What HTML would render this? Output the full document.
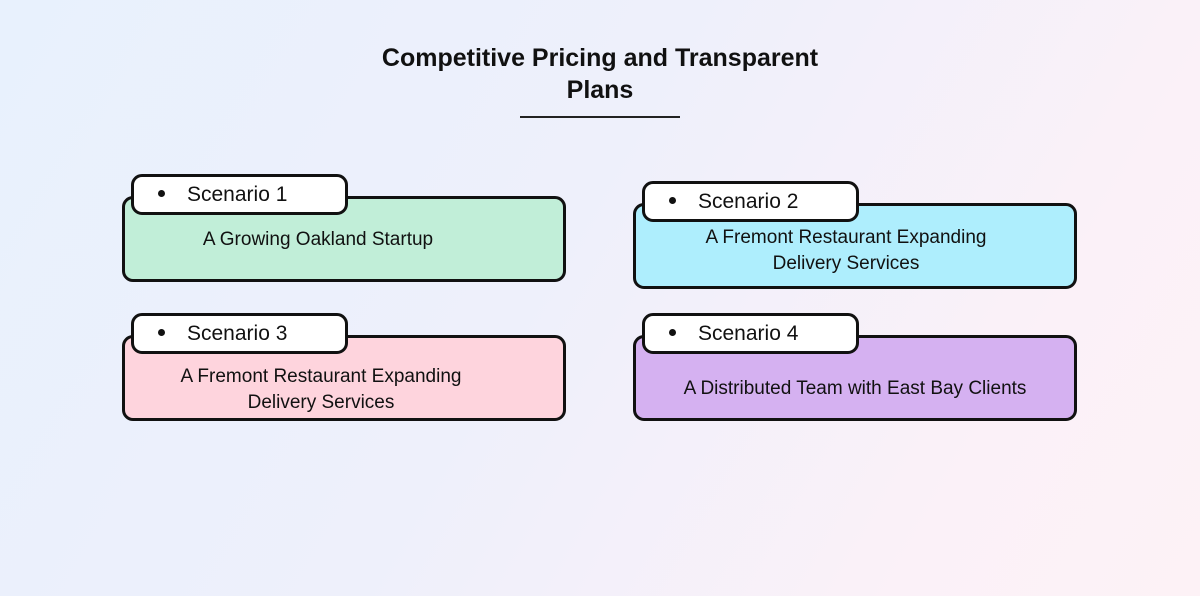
<!DOCTYPE html>
<html><head><style>
body{margin:0;width:1200px;height:596px;overflow:hidden;font-family:"Liberation Sans",sans-serif;
background:linear-gradient(120deg,#e8f1fd 0%,#eef0fb 45%,#fbf1f8 80%,#fdf2f6 100%);position:relative}
.t{position:absolute;left:0;width:1200px;text-align:center;top:42px;font-weight:bold;font-size:25px;line-height:32px;color:#111}
.ul{position:absolute;left:520px;top:116px;width:160px;height:2px;background:#222}
.box{position:absolute;width:438px;height:80px;border:3px solid #111;border-radius:11px;}
.tx{position:absolute;width:400px;text-align:center;font-size:19px;line-height:26px;color:#111}
.tab{position:absolute;width:211px;height:35px;border:3px solid #111;border-radius:11px;background:#fff;font-size:21px;line-height:35px;color:#111}
.tab span{position:absolute;left:24px}
.tab span::before{content:"";display:inline-block;width:7px;height:7px;border-radius:50%;background:#111;margin-right:22px;vertical-align:middle;position:relative;top:-2px}
</style></head><body>
<div class="t">Competitive Pricing and Transparent<br>Plans</div>
<div class="ul"></div>

<div class="box" style="left:122px;top:196px;background:#c1eed8"></div>
<div class="tx" style="left:118px;top:227px">A Growing Oakland Startup</div>
<div class="tab" style="left:131px;top:174px"><span>Scenario 1</span></div>

<div class="box" style="left:633px;top:203px;background:#aeeefd"></div>
<div class="tx" style="left:646px;top:225px">A Fremont Restaurant Expanding<br>Delivery Services</div>
<div class="tab" style="left:642px;top:181px"><span>Scenario 2</span></div>

<div class="box" style="left:122px;top:335px;background:#fed4dd"></div>
<div class="tx" style="left:121px;top:364px">A Fremont Restaurant Expanding<br>Delivery Services</div>
<div class="tab" style="left:131px;top:313px"><span>Scenario 3</span></div>

<div class="box" style="left:633px;top:335px;background:#d5b1f1"></div>
<div class="tx" style="left:655px;top:376px">A Distributed Team with East Bay Clients</div>
<div class="tab" style="left:642px;top:313px"><span>Scenario 4</span></div>
</body></html>
